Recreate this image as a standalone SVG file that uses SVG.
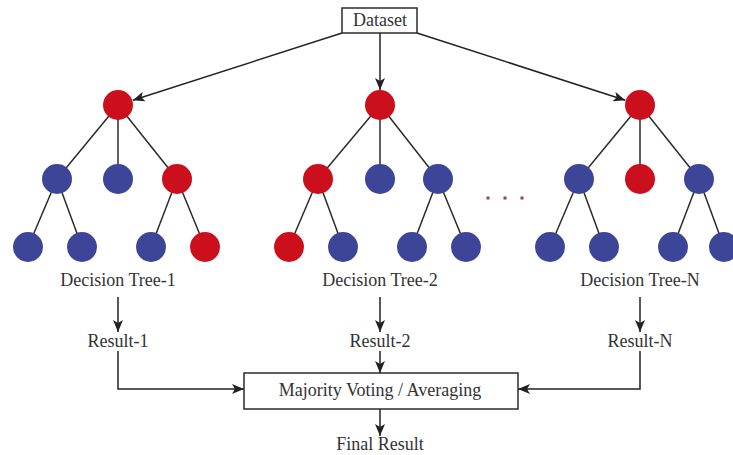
<svg xmlns="http://www.w3.org/2000/svg" width="733" height="455" viewBox="0 0 733 455">
<style>
text{font-family:"Liberation Serif","Times New Roman",serif;font-size:18px;fill:#333;text-anchor:middle}
.e{stroke:#2b2b2b;stroke-width:1.5;fill:none}
.c{stroke:#222;stroke-width:1.5;fill:none}
.r{fill:#cc0f1c}
.b{fill:#3d4598}
.box{fill:#fff;stroke:#2b2b2b;stroke-width:1.5}
.dot{fill:#8b3f7f}
</style>
<defs>
<marker id="ah" markerUnits="userSpaceOnUse" markerWidth="12" markerHeight="10" viewBox="0 0 12 10" refX="12" refY="5" orient="auto">
<path d="M0,0 L12,5 L0,10 L3,5 z" fill="#222"/>
</marker>
</defs>
<rect width="733" height="455" fill="#fff"/>
<g id="connectors">
<line class="c" x1="342" y1="33" x2="132.8" y2="100.3" marker-end="url(#ah)"/>
<line class="c" x1="380" y1="33" x2="380" y2="90" marker-end="url(#ah)"/>
<line class="c" x1="417" y1="33" x2="625.3" y2="100.3" marker-end="url(#ah)"/>
<line class="c" x1="118" y1="297" x2="118" y2="332" marker-end="url(#ah)"/>
<line class="c" x1="380" y1="297" x2="380" y2="332" marker-end="url(#ah)"/>
<line class="c" x1="640" y1="297" x2="640" y2="332" marker-end="url(#ah)"/>
<polyline class="c" points="118,351 118,389 244,389" marker-end="url(#ah)"/>
<line class="c" x1="380" y1="351" x2="380" y2="373" marker-end="url(#ah)"/>
<polyline class="c" points="640,351 640,389 518,389" marker-end="url(#ah)"/>
<line class="c" x1="380" y1="409" x2="380" y2="436" marker-end="url(#ah)"/>
</g>
<g id="dataset">
<rect class="box" x="342" y="8" width="75" height="25"/>
<text x="380" y="26">Dataset</text>
</g>
<g id="tree-1">
<g class="e">
<line x1="118" y1="105" x2="57" y2="179"/><line x1="118" y1="105" x2="118" y2="179"/><line x1="118" y1="105" x2="177" y2="179"/>
<line x1="57" y1="179" x2="28" y2="247"/><line x1="57" y1="179" x2="82" y2="247"/>
<line x1="177" y1="179" x2="151" y2="247"/><line x1="177" y1="179" x2="205" y2="247"/>
</g>
<circle class="r" cx="118" cy="105" r="15"/>
<circle class="b" cx="57" cy="179" r="15"/><circle class="b" cx="118" cy="179" r="15"/><circle class="r" cx="177" cy="179" r="15"/>
<circle class="b" cx="28" cy="247" r="15"/><circle class="b" cx="82" cy="247" r="15"/><circle class="b" cx="151" cy="247" r="15"/><circle class="r" cx="205" cy="247" r="15"/>
<text x="118" y="286">Decision Tree-1</text>
</g>
<g id="tree-2">
<g class="e">
<line x1="380" y1="105" x2="318" y2="179"/><line x1="380" y1="105" x2="380" y2="179"/><line x1="380" y1="105" x2="438" y2="179"/>
<line x1="318" y1="179" x2="289" y2="247"/><line x1="318" y1="179" x2="343" y2="247"/>
<line x1="438" y1="179" x2="412" y2="247"/><line x1="438" y1="179" x2="466" y2="247"/>
</g>
<circle class="r" cx="380" cy="105" r="15"/>
<circle class="r" cx="318" cy="179" r="15"/><circle class="b" cx="380" cy="179" r="15"/><circle class="b" cx="438" cy="179" r="15"/>
<circle class="r" cx="289" cy="247" r="15"/><circle class="b" cx="343" cy="247" r="15"/><circle class="b" cx="412" cy="247" r="15"/><circle class="b" cx="466" cy="247" r="15"/>
<text x="380" y="286">Decision Tree-2</text>
</g>
<g id="ellipsis">
<rect class="dot" x="486.5" y="196.5" width="3" height="3"/>
<rect class="dot" x="503.5" y="196.5" width="3" height="3"/>
<rect class="dot" x="520.5" y="196.5" width="3" height="3"/>
</g>
<g id="tree-n">
<g class="e">
<line x1="640" y1="105" x2="579" y2="179"/><line x1="640" y1="105" x2="640" y2="179"/><line x1="640" y1="105" x2="699" y2="179"/>
<line x1="579" y1="179" x2="550" y2="247"/><line x1="579" y1="179" x2="604" y2="247"/>
<line x1="699" y1="179" x2="673" y2="247"/><line x1="699" y1="179" x2="724" y2="247"/>
</g>
<circle class="r" cx="640" cy="105" r="15"/>
<circle class="b" cx="579" cy="179" r="15"/><circle class="r" cx="640" cy="179" r="15"/><circle class="b" cx="699" cy="179" r="15"/>
<circle class="b" cx="550" cy="247" r="15"/><circle class="b" cx="604" cy="247" r="15"/><circle class="b" cx="673" cy="247" r="15"/><circle class="b" cx="724" cy="247" r="15"/>
<text x="640" y="286">Decision Tree-N</text>
</g>
<g id="result-1"><text x="118" y="347">Result-1</text></g>
<g id="result-2"><text x="380" y="347">Result-2</text></g>
<g id="result-n"><text x="640" y="347">Result-N</text></g>
<g id="majority">
<rect class="box" x="244" y="373" width="274" height="36"/>
<text x="380" y="396">Majority Voting / Averaging</text>
</g>
<g id="final"><text x="380" y="450">Final Result</text></g>
</svg>
